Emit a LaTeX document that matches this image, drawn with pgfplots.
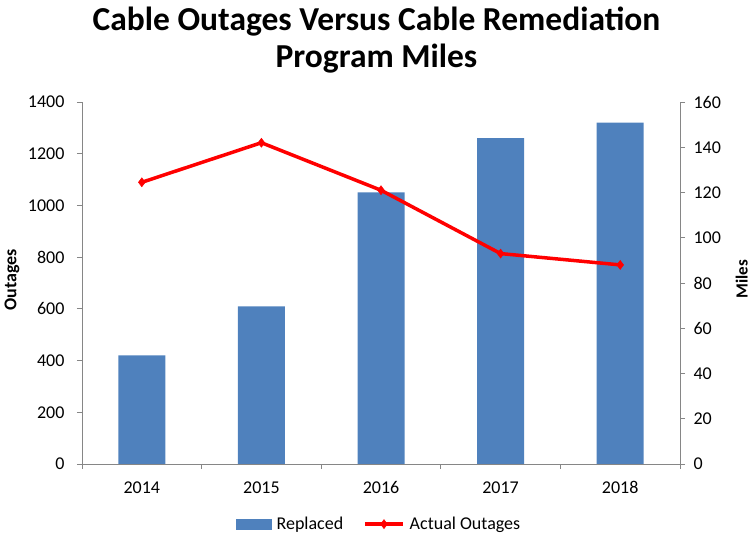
\documentclass[border=0pt]{standalone}
\usepackage{fontspec}
\setmainfont{Carlito}
\usepackage{pgfplots}
\pgfplotsset{compat=1.18}
\definecolor{barblue}{HTML}{4F81BD}
\definecolor{axgray}{HTML}{868686}
\pgfplotsset{longline legend/.style={legend image code/.code={\draw[mark repeat=2,mark phase=2,##1] plot coordinates {(0pt,0pt) (19pt,0pt) (38pt,0pt)};}}}
\begin{document}
\begin{tikzpicture}
\path[use as bounding box] (0pt,0pt) rectangle (752pt,540pt);
\node[align=center, font=\fontsize{33.5}{37}\selectfont\bfseries] at (376.5pt,500pt) {Cable Outages Versus Cable Remediation\\Program Miles};
\begin{axis}[
  at={(82pt,76pt)}, anchor=south west, width=598pt, height=362pt, scale only axis,
  xmin=-0.5, xmax=4.5, ymin=0, ymax=1400,
  axis y line*=left, axis x line*=bottom,
  axis line style={axgray, line width=0.8pt, -},
  xtick={0,1,2,3,4}, xticklabels={2014,2015,2016,2017,2018},
  major x tick style={draw=none},
  minor xtick={-0.5,0.5,1.5,2.5,3.5,4.5},
  minor x tick style={axgray, line width=0.8pt},
  ytick={0,200,...,1400},
  major y tick style={axgray, line width=0.8pt},
  tick align=outside, major tick length=5pt, minor tick length=5pt,
  ticklabel style={font=\fontsize{18}{18}\selectfont},
  /pgf/number format/assume math mode=true,
  /pgf/number format/1000 sep={},
  yticklabel style={xshift=-9pt},
  xticklabel style={yshift=-9pt},
  clip=false,
]
\addplot[ybar, bar width=47pt, fill=barblue, draw=none] coordinates {(0,420) (1,610) (2,1050) (3,1260) (4,1320)};
\node[rotate=90, font=\fontsize{18}{18}\selectfont\bfseries] at (rel axis cs:-0.117,0.508) {Outages};
\end{axis}
\begin{axis}[
  at={(82pt,76pt)}, anchor=south west, width=598pt, height=362pt, scale only axis,
  xmin=-0.5, xmax=4.5, ymin=0, ymax=160,
  axis y line*=right, axis x line=none,
  axis line style={axgray, line width=0.8pt, -},
  ytick={0,20,...,160},
  major y tick style={axgray, line width=0.8pt},
  tick align=outside, major tick length=5pt,
  ticklabel style={font=\fontsize{18}{18}\selectfont},
  /pgf/number format/assume math mode=true,
  yticklabel style={xshift=5pt},
  clip=false,
  legend style={at={(0.497,-0.166)}, anchor=center, draw=none, fill=none,
    font=\fontsize{18}{18}\selectfont, legend columns=2,
    /tikz/every odd column/.append style={column sep=3pt},
    /tikz/every even column/.append style={column sep=18pt}},
]
\addlegendimage{legend image code/.code={\fill[barblue] (0pt,-5pt) rectangle (35pt,5pt);}}
\addlegendentry{Replaced}
\addplot[red, line width=3.5pt, mark=diamond*, mark size=4.5pt, mark options={solid, line width=0.5pt}, longline legend]
  coordinates {(0,124.5) (1,142) (2,121) (3,93) (4,88)};
\addlegendentry{Actual Outages}
\node[rotate=90, font=\fontsize{17}{17}\selectfont\bfseries] at (rel axis cs:1.103,0.511) {Miles};
\end{axis}
\end{tikzpicture}
\end{document}
